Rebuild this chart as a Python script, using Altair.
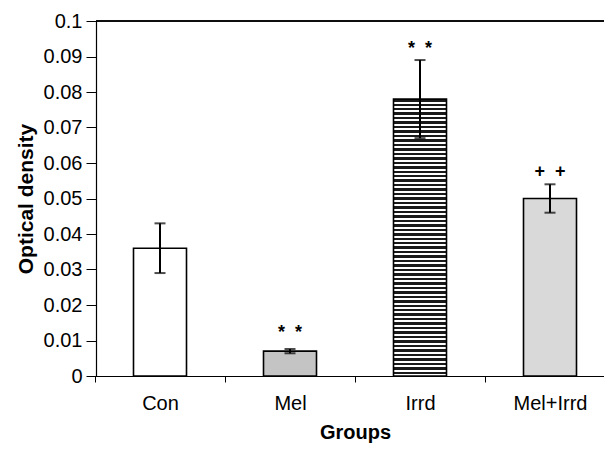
import altair as alt
import pandas as pd

groups = ["Con", "Mel", "Irrd", "Mel+Irrd"]
means = [0.036, 0.007, 0.078, 0.050]
errors = [0.007, 0.0006, 0.011, 0.004]
marks = ["", "* \u00a0*", "* \u00a0*", "+ \u00a0+"]
mark_y = [None, 0.0122, 0.0922, 0.0575]
y_ticks = [0, 0.01, 0.02, 0.03, 0.04, 0.05, 0.06, 0.07, 0.08, 0.09, 0.1]

df = pd.DataFrame({
    "group": groups,
    "mean": means,
    "lo": [m - e for m, e in zip(means, errors)],
    "hi": [m + e for m, e in zip(means, errors)],
    "mark": marks,
    "my": mark_y,
})

FONT = "Liberation Sans"

# hatch-like stripes for the Irrd bar
n = 62
stops = []
for i in range(n):
    a = i / n
    b = (i + 0.55) / n
    c = (i + 1) / n
    stops += [{"offset": a, "color": "#1a1a1a"}, {"offset": b, "color": "#1a1a1a"},
              {"offset": b, "color": "#ffffff"}, {"offset": c, "color": "#ffffff"}]
hatch = alt.Gradient(gradient="linear", stops=stops, x1=0, y1=0, x2=0, y2=1)

xscale = alt.Scale(domain=groups, range=[-1, 519], paddingInner=0, paddingOuter=0)
yscale = alt.Scale(domain=[0, 0.1], nice=False)

xaxis = alt.Axis(title="Groups", labelAngle=0, labelFontSize=20, labelFont=FONT,
                 labelColor="black", labelPadding=11, tickBand="extent",
                 tickSize=6, tickColor="black", domainColor="black",
                 domainWidth=1.2, titleFont=FONT, titleFontSize=20,
                 titleFontWeight="bold", titleColor="black", titlePadding=9)
yaxis = alt.Axis(title="Optical density", values=y_ticks, format="~g",
                 labelOverlap=False,
                 labelFontSize=20, labelFont=FONT, labelColor="black",
                 labelPadding=4, tickSize=10, tickColor="black",
                 domainColor="black", domainWidth=1.2, grid=False,
                 titleFont=FONT, titleFontSize=21, titleFontWeight="bold",
                 titleColor="black", titlePadding=7)

def X():
    return alt.X("group:N", scale=xscale, sort=groups, axis=xaxis)

def Y(field):
    return alt.Y(field, scale=yscale, axis=yaxis)

base = alt.Chart(df)

def bar_layer(name, fill):
    return base.transform_filter(alt.datum.group == name).mark_bar(
        width=53, fill=fill, stroke="black", strokeWidth=1.6
    ).encode(x=X(), y=Y("mean:Q"))

bars = [bar_layer("Con", "#ffffff"), bar_layer("Mel", "#c4c4c4"),
        bar_layer("Irrd", hatch), bar_layer("Mel+Irrd", "#d9d9d9")]

err = base.mark_rule(color="black", strokeWidth=2).encode(
    x=X(), y=Y("lo:Q"), y2="hi:Q")
cap_lo = base.mark_tick(color="black", thickness=2, size=11).encode(
    x=X(), y=Y("lo:Q"))
cap_hi = base.mark_tick(color="black", thickness=2, size=11).encode(
    x=X(), y=Y("hi:Q"))

labels = base.transform_filter("datum.mark != ''").mark_text(
    font=FONT, fontSize=18, fontWeight="bold", baseline="middle", color="black"
).encode(x=X(), y=Y("my:Q"), text="mark:N")

top = alt.Chart(df).mark_rule(color="black", strokeWidth=1.2).encode(
    y=alt.datum(0.1, scale=yscale, axis=yaxis))

chart = alt.layer(*bars, err, cap_lo, cap_hi, labels, top).properties(
    width=508, height=355,
    autosize=alt.AutoSizeParams(type="none"),
    padding={"left": 88, "top": 13, "right": 0, "bottom": 70},
).configure_view(stroke=None).configure(background="white")

chart.save("out.html", embed_options={"renderer": "svg", "actions": False})
